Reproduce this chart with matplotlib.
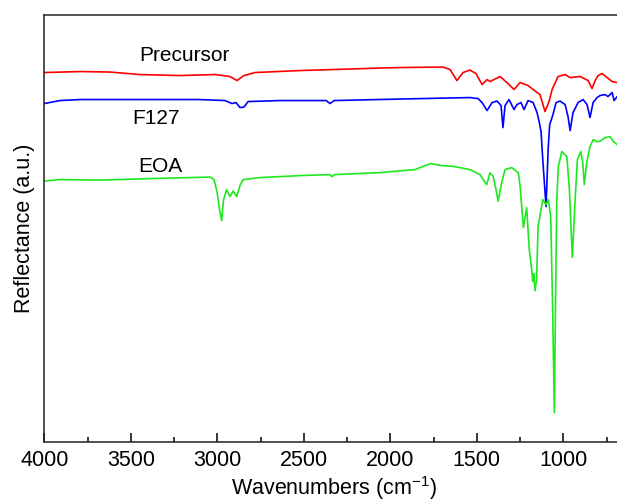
import matplotlib
matplotlib.use("Agg")
import matplotlib.pyplot as plt
from matplotlib.ticker import MultipleLocator

plt.rcParams["font.family"] = ["Liberation Sans", "DejaVu Sans"]
plt.rcParams["mathtext.fontset"] = "custom"
plt.rcParams["mathtext.rm"] = "Liberation Sans"
plt.rcParams["mathtext.it"] = "Liberation Sans:italic"

# values (wavenumber in cm-1, reflectance in arbitrary units)
precursor_wn = [4000, 3794, 3620, 3447, 3216, 3013, 2927, 2886, 2846, 2782, 2522, 2233,
                2060, 1944, 1696, 1655, 1615, 1580, 1540, 1505, 1470, 1441, 1424, 1366,
                1326, 1285, 1250, 1204, 1163, 1135, 1106, 1083, 1065, 1031, 990, 961,
                903, 857, 834, 816, 799, 776, 747, 718, 689, 650]
precursor_r = [369, 370, 369.5, 367, 366, 367, 365, 361, 366, 369, 371, 372.5,
               373.5, 374, 374.5, 372, 361, 369, 371.5, 368, 357, 362, 360, 365,
               359, 352, 359, 356, 350.5, 347, 330, 340, 352, 365, 367, 364,
               365, 361, 353, 361, 366, 368, 364, 360, 359, 358]

f127_wn = [4000, 3909, 3794, 3389, 3100, 2955, 2915, 2892, 2869, 2846, 2822, 2637,
           2371, 2349, 2325, 1944, 1540, 1493, 1470, 1441, 1412, 1383, 1360, 1349,
           1337, 1314, 1285, 1268, 1245, 1227, 1204, 1175, 1152, 1140, 1129, 1117,
           1100, 1088, 1079, 1071, 1060, 1042, 1019, 990, 973, 961, 944, 915,
           886, 863, 846, 828, 805, 788, 759, 742, 718, 707, 689, 650]
f127_r = [338, 341, 342, 342, 342, 341, 338, 339, 334, 334.5, 340, 341,
          341, 338, 341, 342.5, 344, 343, 339, 331, 339, 340.5, 336, 314,
          336, 342, 332, 337, 339, 332, 341, 339, 329, 320, 310, 277,
          235, 292, 317, 321, 327, 339, 340.5, 337, 325, 311, 329, 339,
          342, 337, 324, 339, 344, 346, 347, 345, 349, 341, 345, 345]

eoa_wn = [4000, 3909, 3678, 3389, 3158, 3042, 3019, 3002, 2987, 2975, 2964, 2946,
          2927, 2908, 2888, 2869, 2851, 2753, 2522, 2349, 2338, 2320, 2060, 1857,
          1799, 1765, 1707, 1638, 1540, 1482, 1443, 1424, 1406, 1389, 1377, 1356,
          1337, 1298, 1260, 1250, 1231, 1212, 1197, 1183, 1177, 1171, 1164, 1155,
          1146, 1119, 1100, 1087, 1073, 1063, 1052, 1045, 1038, 1029, 1009, 980,
          965, 948, 932, 919, 899, 888, 879, 865, 846, 827, 805, 788,
          759, 730, 711, 689, 650]
eoa_r = [260.5, 262, 261.5, 263, 264, 264.5, 262, 250, 232, 221, 242, 252,
         245, 250.5, 245, 256, 262, 264, 266, 267, 265, 267, 269, 272,
         276, 278, 276, 275.3, 272, 267, 257, 268.7, 265.3, 252, 240.3, 259,
         272, 274, 268.7, 255.3, 214, 234, 192, 172, 160, 168, 151, 162,
         215, 242, 237, 242, 225, 142, 29, 142, 242, 275, 290, 285,
         252, 184, 242, 282, 290, 279, 257, 279, 295, 302, 300, 300.3,
         304, 305, 300, 297, 296]

series = [
    ("Precursor", precursor_wn, precursor_r, "#ff0000", (3190, 386)),
    ("F127", f127_wn, f127_r, "#0000ff", (3354, 323)),
    ("EOA", eoa_wn, eoa_r, "#1ee81e", (3331, 275)),
]

fig = plt.figure(figsize=(6.17, 5.04), dpi=100)
ax = fig.add_axes([0.0718, 0.1236, 0.9394, 0.847])

for name, wn, r, color, (tx, ty) in series:
    ax.plot(wn, r, color=color, lw=1.2)
    ax.text(tx, ty, name, fontsize=15, ha="center", va="center")

ax.set_xlim(4000, 650)
ax.set_ylim(0, 426.7)
ax.xaxis.set_major_locator(MultipleLocator(500))
ax.xaxis.set_minor_locator(MultipleLocator(250))
ax.tick_params(axis="x", which="both", direction="in", top=False, width=1.1,
               labelsize=15.5, pad=6)
ax.tick_params(axis="x", which="major", length=6.5)
ax.tick_params(axis="x", which="minor", length=3.6)
ax.set_yticks([])
for s in ax.spines.values():
    s.set_linewidth(1.1)
    s.set_color("#222222")
ax.spines["right"].set_visible(False)

ax.set_xlabel("Wavenumbers (cm$^{-1}$)", fontsize=15.5, labelpad=2)
ax.set_ylabel("Reflectance (a.u.)", fontsize=15.5, labelpad=7)

fig.savefig("out.png", dpi=100)
